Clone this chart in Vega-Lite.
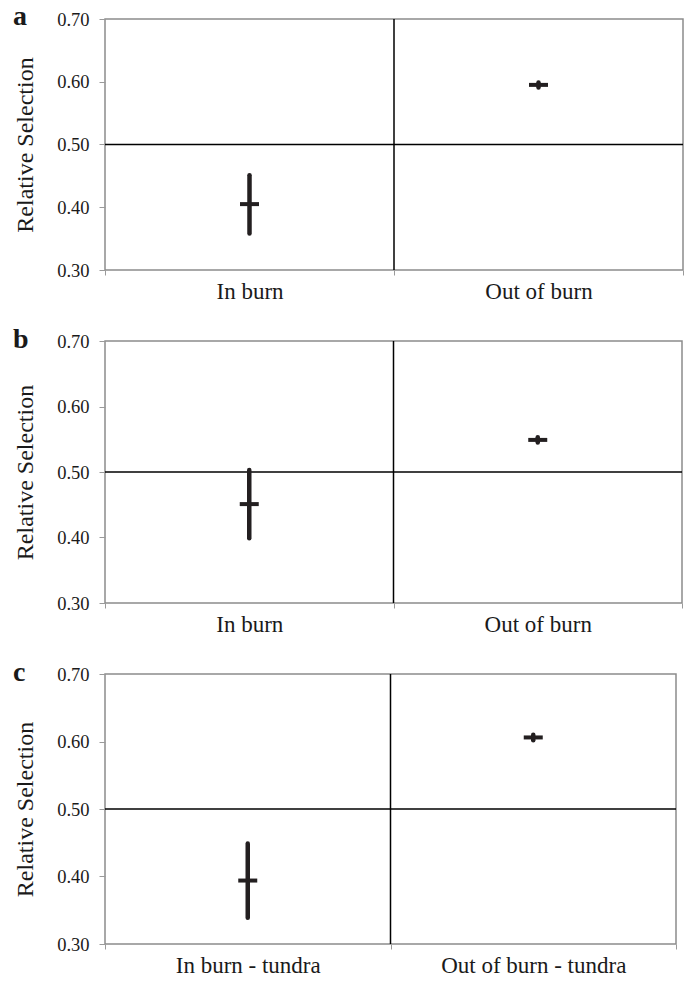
{
  "$schema": "https://vega.github.io/schema/vega-lite/v6.json",
  "background": "white",
  "padding": {"left": 12, "top": 2, "right": 2, "bottom": 5},
  "spacing": 71,
  "bounds": "flush",
  "vconcat": [
    {
      "title": {"text": "a", "anchor": "start", "frame": "group", "orient": "top", "offset": 0, "dy": 43, "dx": -92, "baseline": "alphabetic", "fontSize": 28, "fontWeight": "bold", "font": "Liberation Serif", "color": "#1a1a1a"},
      "width": 578,
      "height": 251,
      "data": {"values": [
        {"site": "In burn", "mean": 0.405, "lo": 0.358, "hi": 0.451},
        {"site": "Out of burn", "mean": 0.595, "lo": 0.591, "hi": 0.599}
      ]},
      "layer": [
        {"data": {"values": [{"ref": 0.5}]}, "mark": {"type": "rule", "color": "#000000", "strokeWidth": 1.5}, "encoding": {"y": {"field": "ref", "type": "quantitative", "scale": {"domain": [0.3, 0.7]}}}},
        {"data": {"values": [{"site": "Out of burn"}]}, "mark": {"type": "rule", "color": "#000000", "strokeWidth": 1.5}, "encoding": {"x": {"field": "site", "type": "nominal", "bandPosition": 0, "sort": ["In burn", "Out of burn"], "scale": {"paddingInner": 0, "paddingOuter": 0}, "axis": {"title": null}}}},
        {"mark": {"type": "rule", "color": "#231f20", "strokeWidth": 4.5, "strokeCap": "round"}, "encoding": {
          "x": {"field": "site", "type": "nominal", "sort": ["In burn", "Out of burn"]},
          "y": {"field": "lo", "type": "quantitative", "scale": {"domain": [0.3, 0.7]}, "axis": {"title": "Relative Selection", "titleFont": "Liberation Serif", "values": [0.3, 0.4, 0.5, 0.6, 0.7], "format": ".2f"}},
          "y2": {"field": "hi"}}},
        {"mark": {"type": "tick", "color": "#231f20", "opacity": 1, "size": 19, "thickness": 4}, "encoding": {
          "x": {"field": "site", "type": "nominal", "sort": ["In burn", "Out of burn"]},
          "y": {"field": "mean", "type": "quantitative"}}}
      ]
    },
    {
      "title": {"text": "b", "anchor": "start", "frame": "group", "orient": "top", "offset": 0, "dy": 44, "dx": -92, "baseline": "alphabetic", "fontSize": 28, "fontWeight": "bold", "font": "Liberation Serif", "color": "#1a1a1a"},
      "width": 577,
      "height": 262,
      "data": {"values": [
        {"site": "In burn", "mean": 0.451, "lo": 0.399, "hi": 0.503},
        {"site": "Out of burn", "mean": 0.549, "lo": 0.545, "hi": 0.553}
      ]},
      "layer": [
        {"data": {"values": [{"ref": 0.5}]}, "mark": {"type": "rule", "color": "#000000", "strokeWidth": 1.5}, "encoding": {"y": {"field": "ref", "type": "quantitative", "scale": {"domain": [0.3, 0.7]}}}},
        {"data": {"values": [{"site": "Out of burn"}]}, "mark": {"type": "rule", "color": "#000000", "strokeWidth": 1.5}, "encoding": {"x": {"field": "site", "type": "nominal", "bandPosition": 0, "sort": ["In burn", "Out of burn"], "scale": {"paddingInner": 0, "paddingOuter": 0}, "axis": {"title": null}}}},
        {"mark": {"type": "rule", "color": "#231f20", "strokeWidth": 4.5, "strokeCap": "round"}, "encoding": {
          "x": {"field": "site", "type": "nominal", "sort": ["In burn", "Out of burn"]},
          "y": {"field": "lo", "type": "quantitative", "scale": {"domain": [0.3, 0.7]}, "axis": {"title": "Relative Selection", "titleFont": "Liberation Serif", "values": [0.3, 0.4, 0.5, 0.6, 0.7], "format": ".2f"}},
          "y2": {"field": "hi"}}},
        {"mark": {"type": "tick", "color": "#231f20", "opacity": 1, "size": 19, "thickness": 4}, "encoding": {
          "x": {"field": "site", "type": "nominal", "sort": ["In burn", "Out of burn"]},
          "y": {"field": "mean", "type": "quantitative"}}}
      ]
    },
    {
      "title": {"text": "c", "anchor": "start", "frame": "group", "orient": "top", "offset": 0, "dy": 44, "dx": -92, "baseline": "alphabetic", "fontSize": 28, "fontWeight": "bold", "font": "Liberation Serif", "color": "#1a1a1a"},
      "width": 571,
      "height": 270,
      "data": {"values": [
        {"site": "In burn - tundra", "mean": 0.394, "lo": 0.339, "hi": 0.449},
        {"site": "Out of burn - tundra", "mean": 0.606, "lo": 0.602, "hi": 0.610}
      ]},
      "layer": [
        {"data": {"values": [{"ref": 0.5}]}, "mark": {"type": "rule", "color": "#000000", "strokeWidth": 1.5}, "encoding": {"y": {"field": "ref", "type": "quantitative", "scale": {"domain": [0.3, 0.7]}}}},
        {"data": {"values": [{"site": "Out of burn - tundra"}]}, "mark": {"type": "rule", "color": "#000000", "strokeWidth": 1.5}, "encoding": {"x": {"field": "site", "type": "nominal", "bandPosition": 0, "sort": ["In burn - tundra", "Out of burn - tundra"], "scale": {"paddingInner": 0, "paddingOuter": 0}, "axis": {"title": null}}}},
        {"mark": {"type": "rule", "color": "#231f20", "strokeWidth": 4.5, "strokeCap": "round"}, "encoding": {
          "x": {"field": "site", "type": "nominal", "sort": ["In burn - tundra", "Out of burn - tundra"]},
          "y": {"field": "lo", "type": "quantitative", "scale": {"domain": [0.3, 0.7]}, "axis": {"title": "Relative Selection", "titleFont": "Liberation Serif", "values": [0.3, 0.4, 0.5, 0.6, 0.7], "format": ".2f"}},
          "y2": {"field": "hi"}}},
        {"mark": {"type": "tick", "color": "#231f20", "opacity": 1, "size": 19, "thickness": 4}, "encoding": {
          "x": {"field": "site", "type": "nominal", "sort": ["In burn - tundra", "Out of burn - tundra"]},
          "y": {"field": "mean", "type": "quantitative"}}}
      ]
    }
  ],
  "config": {
    "view": {"stroke": "#8c8c8c", "strokeWidth": 1.5},
    "axis": {"grid": false, "domain": false, "tickColor": "#9a9a9a", "tickWidth": 1, "labelFont": "Liberation Serif", "titleFont": "Liberation Serif", "labelColor": "#1a1a1a", "titleColor": "#1a1a1a", "titleFontWeight": "normal"},
    "axisX": {"labelFontSize": 23, "tickSize": 5, "labelPadding": 5, "labelAngle": 0, "labelLimit": 400, "tickBand": "extent"},
    "axisY": {"labelFontSize": 18.5, "tickSize": 6, "labelPadding": 10, "titleFont": "Liberation Serif", "titleFontSize": 24, "titlePadding": 19}
  }
}
